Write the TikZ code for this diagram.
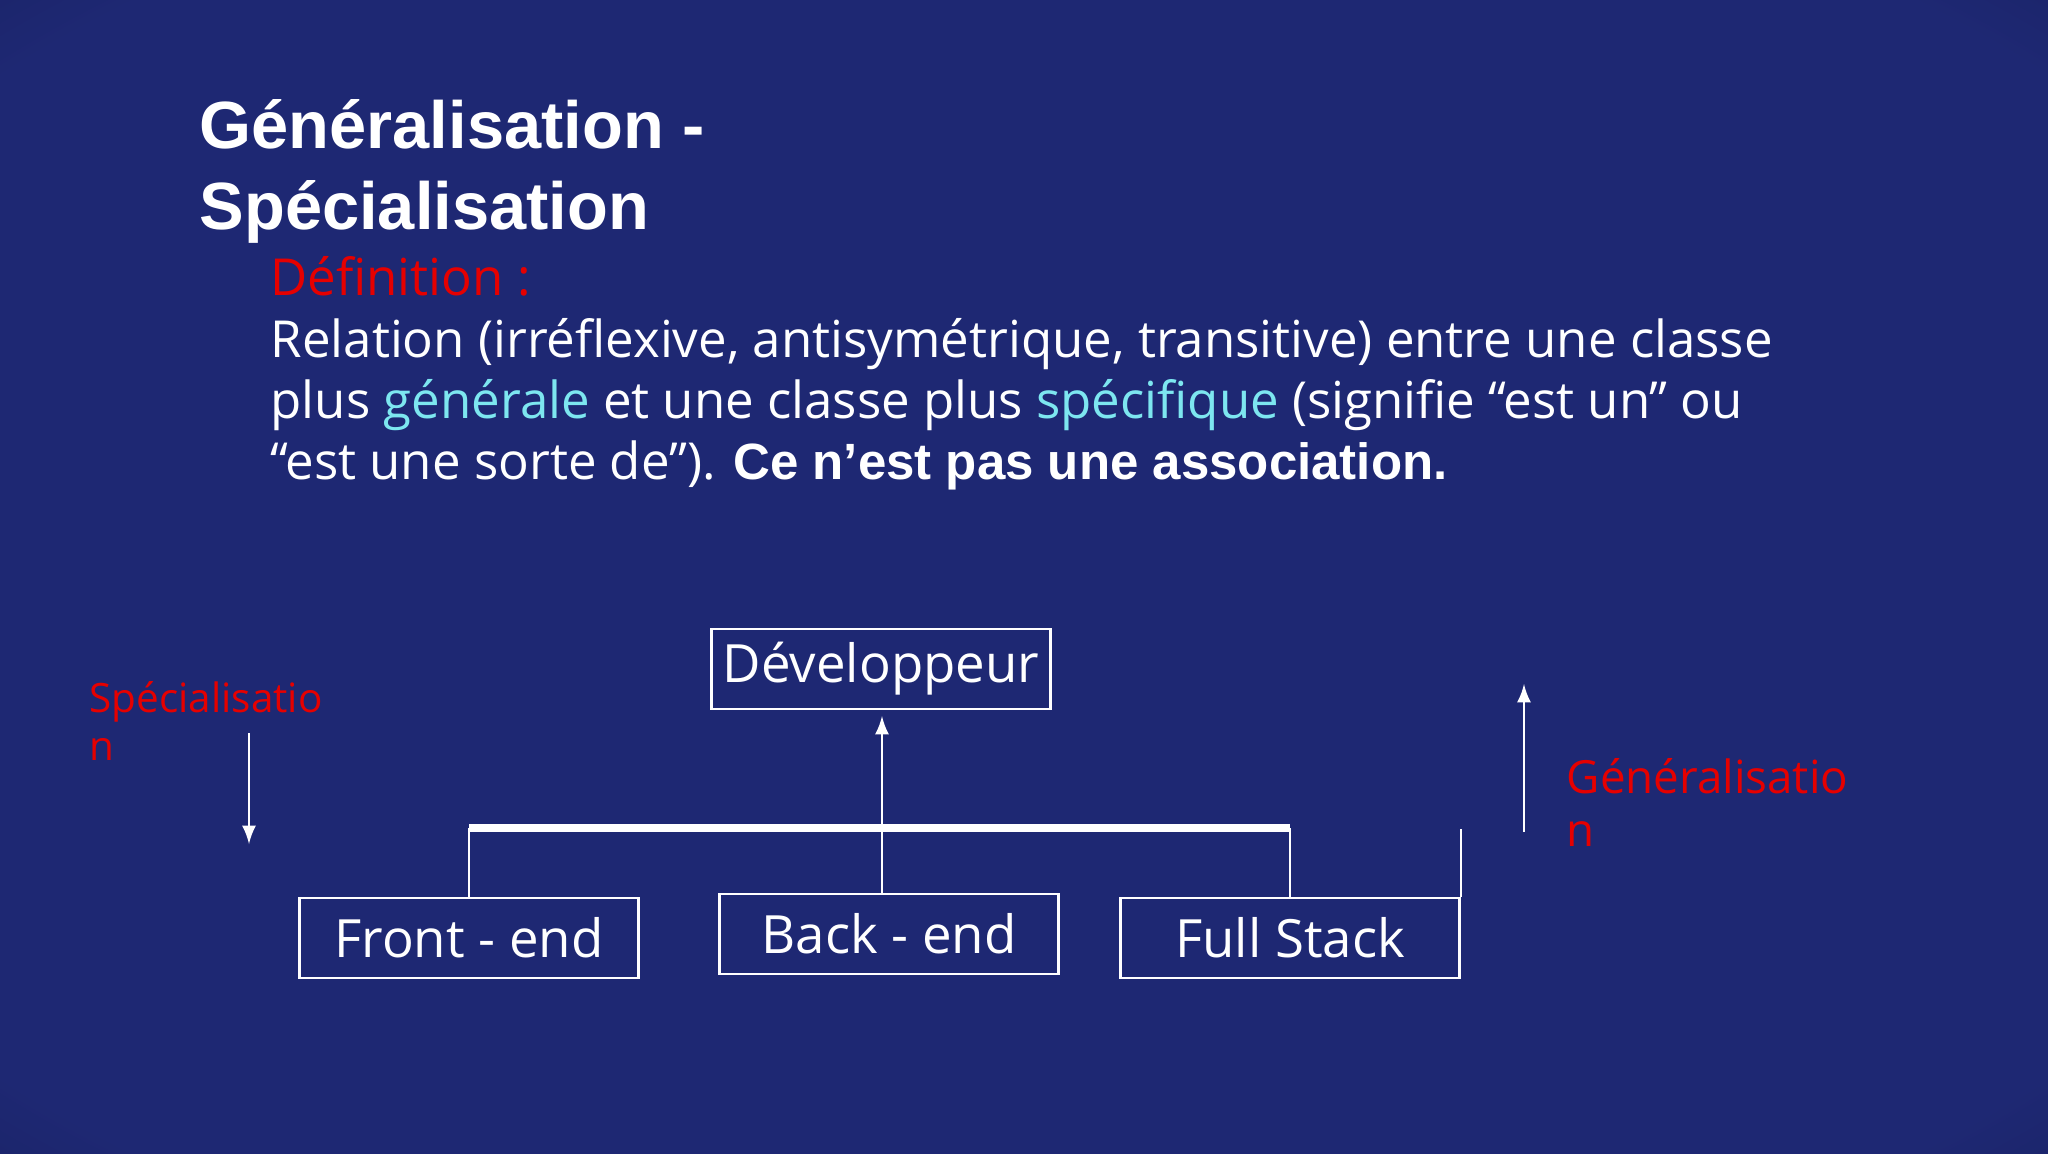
\documentclass[tikz,border=0pt]{standalone}
\usepackage{fontspec}
\setmainfont{Open Sans}
\newfontfamily\arialfont{Liberation Sans}
\usetikzlibrary{positioning}
\definecolor{slidebg}{RGB}{30,40,115}
\definecolor{slidedark}{RGB}{10,14,55}
\definecolor{defred}{RGB}{230,0,0}
\definecolor{keycyan}{RGB}{125,230,240}
\pgfdeclareradialshading{slideshade}{\pgfpoint{0cm}{0cm}}{color(0bp)=(slidebg); color(33bp)=(slidebg); color(55bp)=(slidedark); color(72bp)=(black)}
\tikzset{
  classbox/.style={draw=white, thick, minimum width=3.39cm, minimum height=0.8cm, text=white, font=\fontsize{15}{18}\selectfont, inner sep=0pt},
  arrowline/.style={draw=white, thick, -latex},
}

\begin{document}
\begin{tikzpicture}[x=0.01cm, y=-0.01cm]
      \useasboundingbox (0,0) rectangle (2048,1153);
      \shade[shading=slideshade] (0,0) rectangle (2048,1153);

      \node (T1) [anchor=base west, text=white, font=\arialfont\bfseries\fontsize{19}{23}\selectfont, inner sep=0pt] at (199,148) {Généralisation -};
      \node (T2) [anchor=base west, text=white, font=\arialfont\bfseries\fontsize{19}{23}\selectfont, inner sep=0pt] at (199,229) {Spécialisation};
      \node (D) [anchor=base west, text=defred, font=\fontsize{14.5}{17}\selectfont, inner sep=0pt] at (270,295) {Définition :};
      \node (L1) [anchor=base west, text=white, font=\fontsize{14.5}{17}\selectfont, inner sep=0pt] at (270,357) {Relation (irréflexive, antisymétrique, transitive) entre une classe};
      \node (L2) [anchor=base west, text=white, font=\fontsize{14.5}{17}\selectfont, inner sep=0pt] at (270,418) {plus \textcolor{keycyan}{générale} et une classe plus \textcolor{keycyan}{spécifique} (signifie “est un” ou};
      \node (L3) [anchor=base west, text=white, font=\fontsize{14.5}{17}\selectfont, inner sep=0pt] at (270,479) {“est une sorte de”). {\arialfont\bfseries Ce n’est pas une association.}};

      \node (dev) [classbox] at (881,669) {Développeur};
      \node (front) [classbox] at (469,938) {Front - end};
      \node (back) [classbox] at (889,934) {Back - end};
      \node (full) [classbox] at (1290,938) {Full Stack};

      \coordinate (barL) at (469,828);
      \coordinate (barR) at (1290,828);
      \coordinate (barM) at (882,828);
      \draw[white, line width=2.2pt] (barL) -- (barR);
      \draw[white, thick] (barL) -- (front.north -| barL);
      \draw[white, thick] (barR) -- (full.north -| barR);
      \draw[arrowline] (back.north -| barM) -- (882,716);
      \draw[white, thick] (full.north east) -- ++(0,-68);

      \node (spec) [anchor=base west, text=defred, font=\fontsize{11.5}{13.5}\selectfont, inner sep=0pt, align=left] at (89,760) {Spécialisatio\\n};
      \coordinate (specA) at (249,733);
      \coordinate (specB) at (249,844);
      \draw[arrowline] (specA) -- (specB);

      \node (gen) [anchor=base west, text=defred, font=\fontsize{13}{15}\selectfont, inner sep=0pt, align=left] at (1566,846) {Généralisatio\\n};
      \coordinate (genA) at (1524,832);
      \coordinate (genB) at (1524,684);
      \draw[arrowline] (genA) -- (genB);
    \end{tikzpicture}
\end{document}
